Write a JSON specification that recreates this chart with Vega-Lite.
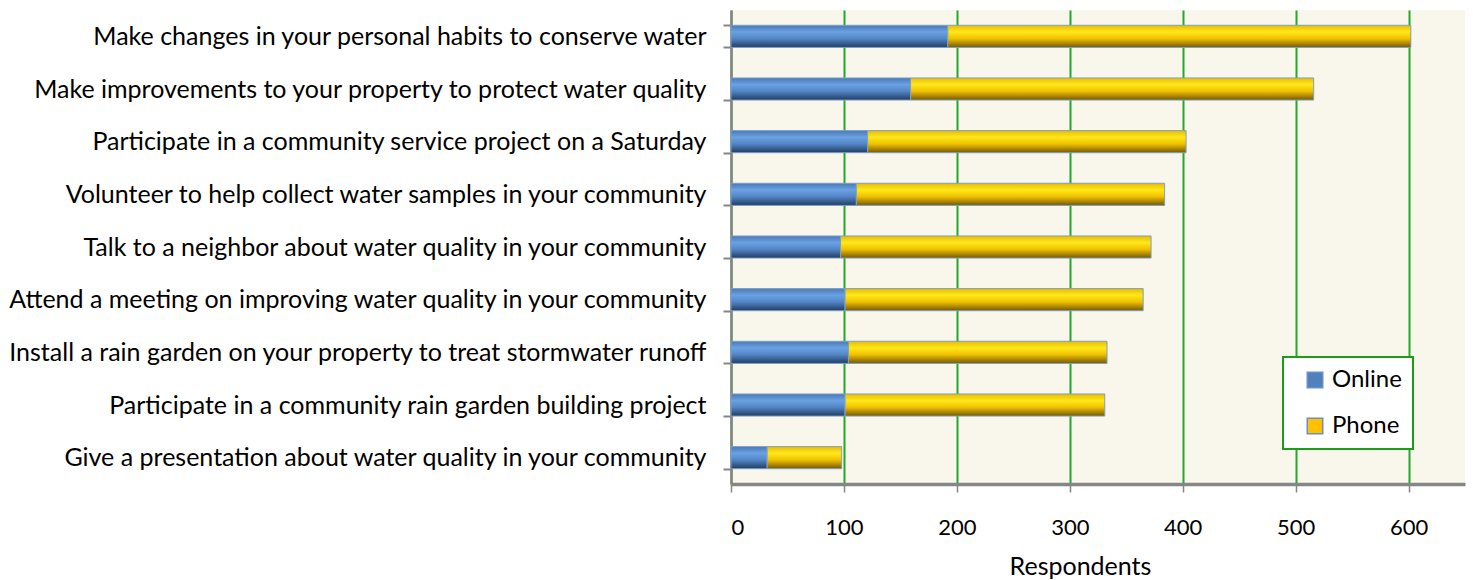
{
  "$schema": "https://vega.github.io/schema/vega-lite/v6.json",
  "autosize": "none",
  "width": 734,
  "height": 474,
  "padding": {"left": 731, "top": 10, "right": 8, "bottom": 96},
  "background": "white",
  "config": {
    "font": "Lato",
    "view": {"fill": "#f9f7ec", "stroke": null},
    "axis": {"labelColor": "#000000", "titleColor": "#000000", "labelFont": "Lato", "titleFont": "Lato"},
    "legend": {"labelFont": "Lato"}
  },
  "data": {
    "values": [
      {"task": "Make changes in your personal habits to conserve water", "series": "Online", "value": 192},
      {"task": "Make changes in your personal habits to conserve water", "series": "Phone", "value": 410},
      {"task": "Make improvements to your property to protect water quality", "series": "Online", "value": 159},
      {"task": "Make improvements to your property to protect water quality", "series": "Phone", "value": 357},
      {"task": "Participate in a community service project on a Saturday", "series": "Online", "value": 121},
      {"task": "Participate in a community service project on a Saturday", "series": "Phone", "value": 282},
      {"task": "Volunteer to help collect water samples in your community", "series": "Online", "value": 111},
      {"task": "Volunteer to help collect water samples in your community", "series": "Phone", "value": 273},
      {"task": "Talk to a neighbor about water quality in your community", "series": "Online", "value": 97},
      {"task": "Talk to a neighbor about water quality in your community", "series": "Phone", "value": 275},
      {"task": "Attend a meeting on improving water quality in your community", "series": "Online", "value": 101},
      {"task": "Attend a meeting on improving water quality in your community", "series": "Phone", "value": 264},
      {"task": "Install a rain garden on your property to treat stormwater runoff", "series": "Online", "value": 104},
      {"task": "Install a rain garden on your property to treat stormwater runoff", "series": "Phone", "value": 229},
      {"task": "Participate in a community rain garden building project", "series": "Online", "value": 101},
      {"task": "Participate in a community rain garden building project", "series": "Phone", "value": 230},
      {"task": "Give a presentation about water quality in your community", "series": "Online", "value": 32},
      {"task": "Give a presentation about water quality in your community", "series": "Phone", "value": 66}
    ]
  },
  "transform": [
    {"stack": "value", "groupby": ["task"], "sort": [{"field": "series", "order": "ascending"}], "as": ["v0", "v1"]}
  ],
  "encoding": {
    "y": {
      "field": "task", "type": "nominal", "sort": null,
      "scale": {"paddingInner": 0.58, "paddingOuter": 0.29},
      "axis": {
        "title": null, "labelFontSize": 25, "labelLimit": 0, "labelPadding": 17,
        "tickBand": "extent", "tickSize": 8, "tickColor": "#868686", "tickWidth": 2,
        "domainColor": "#868686", "domainWidth": 2.5, "grid": false
      }
    },
    "x": {
      "field": "v0", "type": "quantitative",
      "scale": {"domain": [0, 650], "nice": false},
      "axis": {
        "title": "Respondents", "values": [0, 100, 200, 300, 400, 500, 600],
        "labelFontSize": 22, "labelPadding": 25, "tickSize": 8, "tickColor": "#868686", "tickWidth": 1.5,
        "domainColor": "#868686", "domainWidth": 3.5,
        "grid": true, "gridColor": "#22a82a", "gridWidth": 2,
        "titleFontSize": 25, "titleFontWeight": "normal", "titleX": 349, "titleY": 90, "titleBaseline": "alphabetic"
      }
    }
  },
  "layer": [
    {
      "transform": [{"filter": "datum.series === 'Online'"}],
      "mark": {
        "type": "bar", "stroke": "#7f9fc8", "strokeWidth": 1,
        "fill": {"gradient": "linear", "x1": 0, "y1": 0, "x2": 0, "y2": 1,
          "stops": [
            {"offset": 0, "color": "#4a78b4"},
            {"offset": 0.3, "color": "#6aa2e4"},
            {"offset": 0.6, "color": "#5386c6"},
            {"offset": 1, "color": "#213c62"}
          ]}
      },
      "encoding": {"x2": {"field": "v1"}}
    },
    {
      "transform": [{"filter": "datum.series === 'Phone'"}],
      "mark": {
        "type": "bar", "stroke": "#7f9fc8", "strokeWidth": 1,
        "fill": {"gradient": "linear", "x1": 0, "y1": 0, "x2": 0, "y2": 1,
          "stops": [
            {"offset": 0, "color": "#e8bb00"},
            {"offset": 0.3, "color": "#ffe81a"},
            {"offset": 0.6, "color": "#f0c200"},
            {"offset": 1, "color": "#765800"}
          ]}
      },
      "encoding": {"x2": {"field": "v1"}}
    },
    {
      "mark": {"type": "square", "opacity": 0, "filled": true},
      "encoding": {
        "color": {
          "field": "series", "type": "nominal",
          "scale": {"domain": ["Online", "Phone"], "range": ["#4f81bd", "#ffc000"]},
          "legend": {
            "title": null, "orient": "none", "legendX": 552, "legendY": 347,
            "fillColor": "white", "strokeColor": "#1a9e1a",
            "padding": 11, "symbolType": "square", "symbolSize": 240, "symbolOffset": 9,
            "symbolOpacity": 1, "symbolStrokeColor": "#6a8fc5", "symbolStrokeWidth": 1.5,
            "labelFontSize": 24, "labelColor": "#000000", "labelOffset": 5, "rowPadding": 22,
            "labelExpr": "datum.label + '  '",
            "encode": {"legend": {"update": {"strokeWidth": {"value": 2}}}}
          }
        }
      }
    }
  ]
}
